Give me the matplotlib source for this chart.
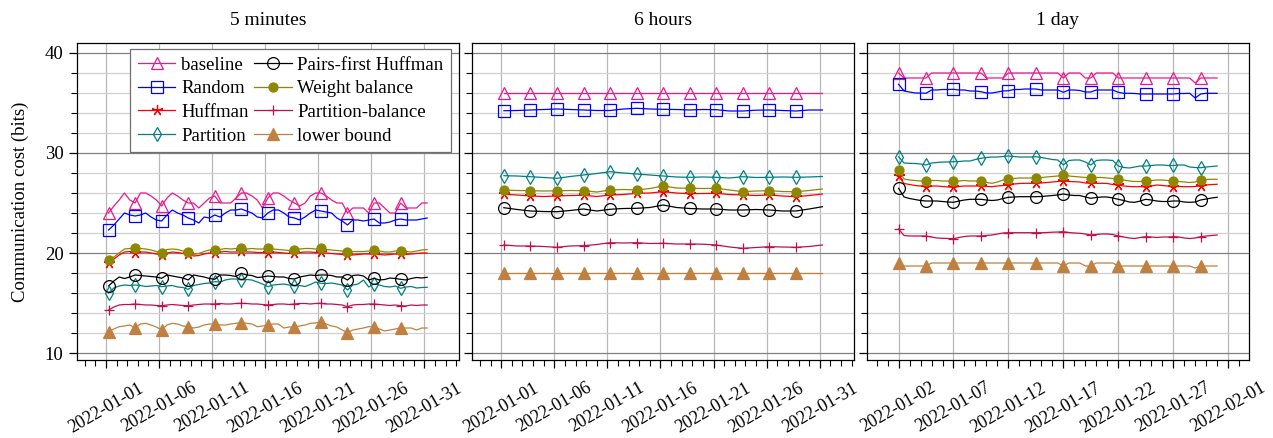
import matplotlib
matplotlib.use('Agg')
import matplotlib.pyplot as plt
import matplotlib.dates as mdates
from matplotlib.ticker import MultipleLocator, FixedLocator
import pandas as pd

plt.rcParams['font.family'] = ['Liberation Serif', 'DejaVu Serif']

# ---------------- data ----------------
panel_titles = ['5 minutes', '6 hours', '1 day']
series_names = ['baseline', 'Random', 'Huffman', 'Partition',
                'Pairs-first Huffman', 'Weight balance', 'Partition-balance', 'lower bound']

# sampling of each panel's curves: start, step (hours)
p1_start, p1_step_h = '2022-01-01 06:00', 12
p2_start, p2_step_h = '2022-01-01 06:00', 30
p3_start, p3_step_h = '2022-01-02 00:00', 12

# date tick labels of each panel
p1_ticks = ['2022-01-01', '2022-01-06', '2022-01-11', '2022-01-16', '2022-01-21', '2022-01-26', '2022-01-31']
p2_ticks = ['2022-01-01', '2022-01-06', '2022-01-11', '2022-01-16', '2022-01-21', '2022-01-26', '2022-01-31']
p3_ticks = ['2022-01-02', '2022-01-07', '2022-01-12', '2022-01-17', '2022-01-22', '2022-01-27', '2022-02-01']

# ---- panel 1: 5 minutes ----
p1_baseline = [24.0, 24.7, 25.3, 26.0, 25.3, 25.0, 26.0, 26.0, 25.7, 25.3, 24.7, 25.5, 26.0, 25.7, 25.3,
               25.0, 25.0, 24.5, 25.0, 25.5, 25.7, 25.0, 25.0, 25.0, 25.5, 26.0, 26.0, 25.7, 25.3, 24.5,
               25.5, 26.0, 26.0, 25.7, 25.3, 25.0, 24.7, 25.0, 25.7, 26.0, 26.0, 25.7, 25.3, 25.0, 25.0,
               24.0, 24.5, 24.5, 24.5, 24.0, 25.0, 25.0, 24.5, 24.0, 24.0, 25.0, 24.5, 24.5, 24.5, 25.0, 25.0]
p1_random = [22.3, 22.8, 23.4, 24.0, 23.8, 23.7, 23.8, 24.0, 23.6, 23.3, 23.2, 23.8, 24.3, 24.0, 23.8,
             23.5, 23.3, 23.0, 23.6, 23.5, 23.8, 23.6, 24.0, 24.3, 24.3, 24.4, 24.2, 24.0, 23.6, 23.5,
             24.0, 24.3, 24.3, 24.0, 23.6, 23.5, 23.3, 23.6, 24.0, 24.3, 24.2, 24.1, 24.0, 23.5, 23.2,
             22.8, 23.3, 23.3, 23.2, 23.3, 23.4, 23.0, 23.0, 23.1, 23.3, 23.4, 23.3, 23.3, 23.3, 23.4, 23.5]
p1_huffman = [19.0, 19.4, 19.8, 20.1, 20.15, 20.0, 20.1, 20.1, 20.0, 19.9, 19.8, 20.0, 20.1, 20.05, 19.95,
              19.9, 19.7, 19.75, 19.9, 20.0, 20.0, 20.1, 20.15, 20.1, 20.1, 20.15, 20.1, 20.1, 20.05, 20.05,
              20.0, 20.1, 20.05, 20.0, 19.95, 20.0, 20.05, 20.1, 20.1, 20.05, 20.05, 20.0, 19.95, 19.9, 19.85,
              19.75, 19.8, 19.85, 19.9, 19.9, 19.85, 19.85, 19.8, 19.85, 19.9, 19.85, 19.85, 19.9, 19.95, 20.0, 20.0]
p1_partition = [16.0, 16.5, 16.7, 16.8, 16.75, 16.8, 16.75, 16.65, 16.7, 16.75, 16.63, 16.7, 16.75, 16.6, 16.55,
                16.37, 16.75, 16.85, 16.95, 17.0, 17.13, 17.1, 17.3, 17.4, 17.4, 17.3, 17.35, 17.3, 17.1, 16.9,
                16.63, 16.8, 16.85, 16.9, 16.8, 16.7, 16.75, 16.65, 16.85, 17.1, 16.97, 16.95, 17.0, 16.9, 16.8,
                16.3, 16.8, 16.9, 17.3, 16.6, 16.9, 16.8, 16.65, 16.6, 16.7, 16.47, 16.6, 16.65, 16.5, 16.55, 16.57]
p1_pairs_first = [16.7, 17.2, 17.6, 17.45, 17.6, 17.8, 17.75, 17.7, 17.65, 17.6, 17.47, 17.8, 17.7, 17.6, 17.5,
                  17.3, 17.8, 17.7, 17.6, 17.45, 17.37, 17.8, 17.8, 17.75, 17.65, 17.97, 17.8, 17.75, 17.55, 17.6,
                  17.7, 17.65, 17.6, 17.6, 17.45, 17.4, 17.6, 17.7, 17.8, 17.75, 17.8, 17.8, 17.75, 17.6, 17.6,
                  17.3, 17.75, 17.8, 17.7, 17.3, 17.47, 17.3, 17.35, 17.5, 17.45, 17.37, 17.3, 17.45, 17.55, 17.5, 17.57]
p1_weight = [19.3, 19.6, 20.0, 20.4, 20.45, 20.47, 20.45, 20.4, 20.3, 20.15, 20.0, 20.35, 20.4, 20.35, 20.2,
             20.1, 19.85, 19.95, 20.15, 20.3, 20.3, 20.35, 20.45, 20.4, 20.45, 20.47, 20.4, 20.45, 20.4, 20.4,
             20.47, 20.4, 20.35, 20.3, 20.25, 20.3, 20.4, 20.45, 20.45, 20.4, 20.47, 20.35, 20.3, 20.25, 20.2,
             20.1, 20.15, 20.15, 20.15, 20.2, 20.3, 20.2, 20.1, 20.1, 20.2, 20.2, 20.15, 20.1, 20.2, 20.3, 20.35]
p1_part_balance = [14.3, 14.6, 14.8, 14.85, 14.85, 14.9, 14.85, 14.8, 14.8, 14.75, 14.73, 14.8, 14.85, 14.8, 14.75,
                   14.73, 14.8, 14.85, 14.9, 14.9, 14.9, 14.95, 14.9, 14.9, 14.95, 14.97, 14.95, 14.9, 14.9, 14.85,
                   14.8, 14.85, 14.9, 14.9, 14.85, 14.9, 14.95, 14.95, 14.9, 14.95, 14.97, 14.9, 14.9, 14.85, 14.8,
                   14.63, 14.8, 14.85, 14.85, 14.9, 14.9, 14.85, 14.8, 14.75, 14.8, 14.73, 14.7, 14.8, 14.75, 14.8, 14.8]
p1_lower_bound = [12.1, 12.4, 12.63, 12.7, 12.8, 12.5, 12.9, 12.97, 12.8, 12.6, 12.3, 12.8, 12.97, 12.9, 12.7,
                  12.63, 12.5, 12.6, 12.8, 12.9, 12.9, 12.8, 12.8, 12.9, 12.97, 13.03, 12.97, 12.9, 12.63, 12.7,
                  12.8, 12.9, 12.9, 12.5, 12.6, 12.6, 12.7, 12.8, 12.97, 13.0, 13.13, 12.9, 12.7, 12.6, 12.3,
                  12.03, 12.3, 12.4, 12.5, 12.63, 12.63, 12.4, 12.2, 12.3, 12.4, 12.5, 12.5, 12.5, 12.3, 12.5, 12.5]

# ---- panel 2: 6 hours ----
p2_baseline = [36.0, 36.0, 36.0, 36.0, 36.0, 36.0, 36.0, 36.0, 36.0, 36.0, 36.0, 36.0, 36.0,
               36.0, 36.0, 36.0, 36.0, 36.0, 36.0, 36.0, 36.0, 36.0, 36.0, 36.0, 36.0]
p2_random = [34.23, 34.25, 34.3, 34.35, 34.4, 34.35, 34.3, 34.25, 34.25, 34.4, 34.47, 34.4, 34.37,
             34.35, 34.3, 34.35, 34.33, 34.2, 34.2, 34.28, 34.3, 34.25, 34.2, 34.3, 34.3]
p2_huffman = [25.87, 25.8, 25.7, 25.65, 25.7, 25.75, 25.77, 25.65, 25.8, 25.85, 25.97, 26.0, 26.13,
              26.0, 25.93, 25.95, 25.97, 25.85, 25.8, 25.75, 25.8, 25.7, 25.63, 25.75, 25.9]
p2_partition = [27.73, 27.7, 27.63, 27.55, 27.47, 27.65, 27.8, 27.95, 28.13, 28.0, 27.9, 27.8, 27.7,
                27.6, 27.57, 27.6, 27.57, 27.5, 27.63, 27.55, 27.57, 27.6, 27.57, 27.6, 27.65]
p2_pairs_first = [24.53, 24.35, 24.2, 24.15, 24.13, 24.25, 24.4, 24.2, 24.37, 24.45, 24.47, 24.55, 24.8,
                  24.55, 24.45, 24.4, 24.4, 24.3, 24.3, 24.35, 24.3, 24.2, 24.2, 24.4, 24.63]
p2_weight = [26.3, 26.25, 26.23, 26.2, 26.22, 26.25, 26.23, 26.1, 26.3, 26.35, 26.3, 26.45, 26.7,
             26.5, 26.47, 26.45, 26.47, 26.3, 26.13, 26.2, 26.23, 26.15, 26.13, 26.25, 26.4]
p2_part_balance = [20.8, 20.7, 20.7, 20.65, 20.57, 20.7, 20.73, 20.85, 21.03, 21.0, 21.03, 20.95, 20.97,
                   20.9, 20.9, 20.88, 20.8, 20.6, 20.47, 20.55, 20.63, 20.6, 20.57, 20.65, 20.8]
p2_lower_bound = [18.0, 18.0, 18.0, 18.0, 18.0, 18.0, 18.0, 18.0, 18.0, 18.0, 18.0, 18.0, 18.0,
                  18.0, 18.0, 18.0, 18.0, 18.0, 18.0, 18.0, 18.0, 18.0, 18.0, 18.0, 18.0]

# ---- panel 3: 1 day ----
p3_baseline = [38.0, 37.5, 37.5, 37.5, 37.5, 37.5, 38.0, 38.0, 38.0, 38.0, 38.0, 38.0, 38.0, 38.0, 38.0,
               38.0, 37.5, 37.5, 37.5, 37.5, 38.0, 38.0, 38.0, 38.0, 38.0, 38.0, 38.0, 38.0, 38.0, 38.0,
               37.5, 38.0, 38.0, 38.0, 37.5, 37.5, 38.0, 38.0, 38.0, 38.0, 37.5, 37.5, 37.5, 37.5, 37.5,
               37.5, 37.5, 37.5, 37.5, 37.5, 37.5, 37.5, 37.5, 37.5, 37.0, 37.5, 37.5, 37.5, 37.5]
p3_random = [36.87, 36.2, 36.1, 36.0, 36.0, 35.97, 36.3, 36.3, 36.35, 36.35, 36.37, 36.3, 36.3, 36.2, 36.2,
             36.13, 36.0, 36.0, 36.1, 36.2, 36.23, 36.35, 36.35, 36.4, 36.4, 36.4, 36.3, 36.3, 36.3, 36.3,
             36.07, 36.3, 36.3, 36.25, 36.1, 36.1, 36.3, 36.3, 36.3, 36.3, 36.07, 35.97, 35.97, 35.95, 35.9,
             35.9, 35.9, 35.9, 35.9, 35.9, 35.9, 35.95, 35.95, 35.97, 35.5, 35.9, 35.97, 35.97, 35.97]
p3_huffman = [27.7, 26.95, 26.85, 26.75, 26.7, 26.63, 26.7, 26.7, 26.65, 26.6, 26.57, 26.65, 26.7, 26.7, 26.7,
              26.7, 26.65, 26.63, 26.7, 26.75, 26.8, 26.9, 26.95, 26.97, 26.97, 26.97, 27.0, 27.05, 27.1, 27.15,
              27.23, 27.15, 27.13, 27.1, 27.0, 26.97, 26.97, 26.97, 26.95, 26.85, 26.8, 26.7, 26.65, 26.63, 26.63,
              26.63, 26.7, 26.8, 26.75, 26.7, 26.63, 26.65, 26.63, 26.63, 26.65, 26.73, 26.8, 26.85, 26.87]
p3_partition = [29.63, 29.0, 28.97, 28.95, 28.9, 28.8, 29.0, 29.05, 29.1, 29.1, 29.13, 29.15, 29.2, 29.2, 29.35,
                29.47, 29.55, 29.6, 29.6, 29.65, 29.7, 29.65, 29.6, 29.6, 29.6, 29.63, 29.55, 29.45, 29.35, 29.3,
                28.8, 29.25, 29.3, 29.3, 29.1, 28.8, 29.25, 29.3, 29.3, 29.25, 28.7, 28.55, 28.5, 28.6, 28.7,
                28.7, 28.75, 28.8, 28.8, 28.75, 28.75, 28.8, 28.8, 28.6, 28.55, 28.53, 28.6, 28.65, 28.7]
p3_pairs_first = [26.47, 25.6, 25.45, 25.35, 25.25, 25.2, 25.2, 25.2, 25.15, 25.1, 25.07, 25.2, 25.3, 25.37, 25.37,
                  25.37, 25.3, 25.25, 25.3, 25.45, 25.57, 25.6, 25.63, 25.63, 25.63, 25.63, 25.65, 25.7, 25.75, 25.8,
                  25.9, 25.8, 25.75, 25.75, 25.6, 25.47, 25.55, 25.6, 25.6, 25.5, 25.37, 25.25, 25.1, 25.07, 25.2,
                  25.37, 25.3, 25.2, 25.15, 25.15, 25.2, 25.2, 25.1, 25.07, 25.1, 25.3, 25.4, 25.5, 25.57]
p3_weight = [28.3, 27.4, 27.3, 27.25, 27.2, 27.2, 27.25, 27.25, 27.2, 27.2, 27.2, 27.2, 27.25, 27.2, 27.2,
             27.2, 27.05, 26.97, 27.1, 27.3, 27.37, 27.45, 27.5, 27.5, 27.5, 27.53, 27.55, 27.6, 27.65, 27.7,
             27.8, 27.7, 27.65, 27.6, 27.55, 27.53, 27.55, 27.55, 27.5, 27.45, 27.37, 27.3, 27.2, 27.15, 27.15,
             27.2, 27.25, 27.3, 27.3, 27.25, 27.2, 27.15, 27.1, 27.05, 27.1, 27.3, 27.35, 27.37, 27.37]
p3_part_balance = [22.4, 21.75, 21.7, 21.7, 21.7, 21.7, 21.6, 21.5, 21.47, 21.45, 21.43, 21.55, 21.65, 21.7, 21.7,
                   21.7, 21.75, 21.8, 21.9, 22.0, 22.03, 22.03, 22.03, 22.03, 22.03, 22.03, 22.03, 22.05, 22.08, 22.1,
                   22.13, 22.05, 22.0, 21.97, 21.9, 21.8, 21.85, 21.9, 21.9, 21.85, 21.7, 21.6, 21.5, 21.45, 21.55,
                   21.63, 21.6, 21.55, 21.6, 21.6, 21.63, 21.6, 21.5, 21.45, 21.5, 21.63, 21.7, 21.75, 21.8]
p3_lower_bound = [19.0, 18.7, 18.7, 18.7, 18.7, 18.7, 19.0, 19.0, 19.0, 19.0, 19.0, 19.0, 19.0, 19.0, 19.0,
                  19.0, 19.0, 19.0, 19.0, 19.0, 19.0, 19.0, 19.0, 19.0, 19.0, 19.0, 19.0, 19.0, 19.0, 19.0,
                  18.7, 19.0, 19.0, 19.0, 18.7, 18.7, 19.0, 19.0, 19.0, 19.0, 18.7, 18.7, 18.7, 18.7, 18.7,
                  18.7, 18.7, 18.7, 18.7, 18.7, 18.7, 18.7, 18.7, 18.7, 18.5, 18.7, 18.7, 18.7, 18.7]

panels = [
    (p1_start, p1_step_h, p1_ticks,
     [p1_baseline, p1_random, p1_huffman, p1_partition, p1_pairs_first, p1_weight, p1_part_balance, p1_lower_bound]),
    (p2_start, p2_step_h, p2_ticks,
     [p2_baseline, p2_random, p2_huffman, p2_partition, p2_pairs_first, p2_weight, p2_part_balance, p2_lower_bound]),
    (p3_start, p3_step_h, p3_ticks,
     [p3_baseline, p3_random, p3_huffman, p3_partition, p3_pairs_first, p3_weight, p3_part_balance, p3_lower_bound]),
]
# which samples carry a marker (one marker every 2.5 days)
panel_markevery = [slice(0, 56, 5), slice(0, 23, 2), slice(0, 56, 5)]

# ---------------- styles ----------------
styles = [
    dict(color='#e8198b', marker='^', mfc='none', ms=8.5),
    dict(color='#0000ff', marker='s', mfc='none', ms=8.5),
    dict(color='#ff0000', marker=(5, 2, 0), mfc='none', ms=8.0),
    dict(color='#008080', marker='d', mfc='none', ms=7.5),
    dict(color='#000000', marker='o', mfc='none', ms=8.5),
    dict(color='#8f8700', marker='o', mfc='#8f8700', ms=6.5),
    dict(color='#c0104c', marker='+', mfc='none', ms=7.5),
    dict(color='#bf8040', marker='^', mfc='#bf8040', ms=8.5),
]

W, H = 1273, 438
fig = plt.figure(figsize=(W / 100, H / 100), dpi=100)
ax_left = [76.7, 472.0, 866.7]
ax_w, ax_top, ax_bot = 382.3, 43.0, 360.0
axes = []
for i in range(3):
    ax = fig.add_axes([ax_left[i] / W, 1 - ax_bot / H, ax_w / W, (ax_bot - ax_top) / H])
    axes.append(ax)

FS = 13.0
for i, (ax, (start, step_h, ticks, data)) in enumerate(zip(axes, panels)):
    for name, vals, st in zip(series_names, data, styles):
        x = pd.date_range(start, periods=len(vals), freq=f'{step_h}h')
        ax.plot(x, vals, color=st['color'], lw=0.9, marker=st['marker'],
                ms=st['ms'], mfc=st['mfc'], mec=st['color'], mew=0.9,
                markevery=panel_markevery[i], label=name)
    ax.margins(x=0.1)
    ax.set_ylim(9.3, 41)
    ax.yaxis.set_major_locator(MultipleLocator(10))
    ax.yaxis.set_minor_locator(MultipleLocator(2))
    tick_dates = pd.to_datetime(ticks)
    ax.xaxis.set_major_locator(FixedLocator(mdates.date2num(tick_dates)))
    ax.xaxis.set_major_formatter(mdates.DateFormatter('%Y-%m-%d'))
    ax.xaxis.set_minor_locator(mdates.DayLocator())
    ax.grid(True, which='major', axis='x', color='#b8b8b8', lw=0.9)
    ax.grid(True, which='major', axis='y', color='#808080', lw=0.9)
    ax.grid(True, which='minor', axis='y', color='#d0d0d0', lw=0.9)
    ax.set_axisbelow(True)
    ax.tick_params(axis='both', which='major', direction='out', length=6, width=0.9,
                   labelsize=FS + 0.5, right=False, top=False)
    ax.tick_params(axis='both', which='minor', direction='out', length=4, width=0.8,
                   right=False, top=False)
    ax.tick_params(axis='x', which='major', labelsize=FS, pad=8)
    for lab in ax.get_xticklabels():
        lab.set_rotation(30)
        lab.set_ha('center')
        lab.set_va('top')
    if i > 0:
        ax.tick_params(labelleft=False)
    for sp in ax.spines.values():
        sp.set_linewidth(0.9)
    ax.set_title(panel_titles[i], fontsize=FS + 1, pad=13)

axes[0].set_ylabel('Communication cost (bits)', fontsize=FS + 0.5)
axes[0].yaxis.set_label_coords(-0.125, 0.5)
leg = axes[0].legend(ncol=2, loc='upper right', bbox_to_anchor=(0.979, 0.981), borderaxespad=0,
                     fontsize=FS + 0.5, frameon=True, fancybox=False, edgecolor='#707070',
                     framealpha=1, handlelength=2.0, handletextpad=0.3, columnspacing=0.3,
                     labelspacing=0.35, borderpad=0.4)
leg.get_frame().set_linewidth(0.9)

fig.savefig('out.png', dpi=100)
